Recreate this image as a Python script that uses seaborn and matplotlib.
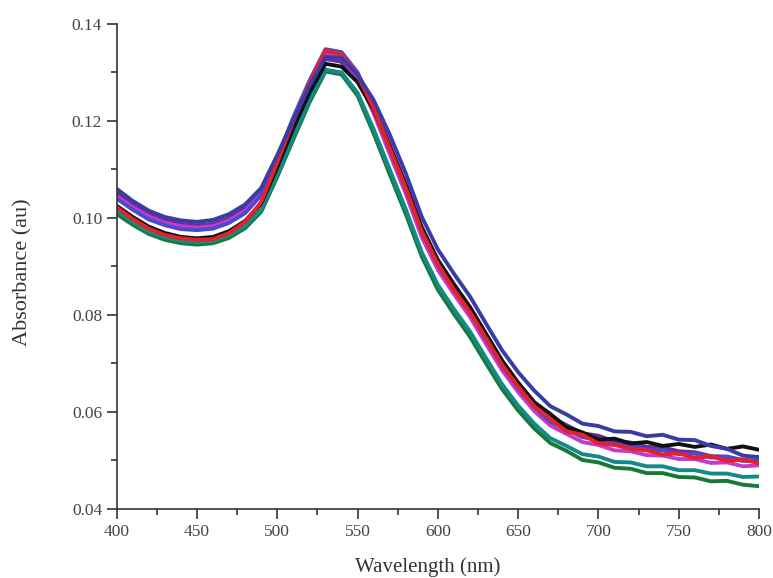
import numpy as np
import pandas as pd
import matplotlib
matplotlib.use("Agg")
import matplotlib.pyplot as plt
import seaborn as sns
from matplotlib.ticker import MultipleLocator

wavelength = list(range(400, 801, 10))

black = [0.1025, 0.1002, 0.0982, 0.0969, 0.0961, 0.0958, 0.0961, 0.0973, 0.0994, 0.1030,
         0.1105, 0.1185, 0.1258, 0.1318, 0.1312, 0.1280, 0.1223, 0.1147, 0.1068, 0.0980,
         0.0913, 0.0863, 0.0816, 0.0761, 0.0706, 0.0660, 0.0620, 0.0596, 0.0569, 0.0558,
         0.0543, 0.0545, 0.0535, 0.0538, 0.0530, 0.0534, 0.0528, 0.0533, 0.0524, 0.0529, 0.0522]
red = [0.1022, 0.0998, 0.0978, 0.0965, 0.0958, 0.0955, 0.0956, 0.0969, 0.0992, 0.1033,
       0.1115, 0.1200, 0.1278, 0.1345, 0.1337, 0.1295, 0.1226, 0.1144, 0.1062, 0.0972,
       0.0905, 0.0852, 0.0806, 0.0752, 0.0697, 0.0652, 0.0612, 0.0586, 0.0560, 0.0553,
       0.0535, 0.0532, 0.0524, 0.0521, 0.0512, 0.0515, 0.0505, 0.0509, 0.0499, 0.0502, 0.0494]
blue = [0.1060, 0.1035, 0.1015, 0.1002, 0.0995, 0.0992, 0.0996, 0.1008, 0.1028, 0.1062,
        0.1130, 0.1202, 0.1272, 0.1332, 0.1330, 0.1295, 0.1243, 0.1172, 0.1092, 0.1002,
        0.0935, 0.0885, 0.0838, 0.0782, 0.0727, 0.0682, 0.0644, 0.0612, 0.0595, 0.0576,
        0.0571, 0.0560, 0.0559, 0.0550, 0.0553, 0.0543, 0.0542, 0.0530, 0.0524, 0.0510, 0.0507]
purple = [0.1052, 0.1028, 0.1008, 0.0995, 0.0988, 0.0985, 0.0988, 0.1000, 0.1020, 0.1055,
          0.1125, 0.1198, 0.1268, 0.1328, 0.1322, 0.1282, 0.1230, 0.1152, 0.1070, 0.0980,
          0.0913, 0.0863, 0.0816, 0.0760, 0.0705, 0.0660, 0.0620, 0.0590, 0.0573, 0.0556,
          0.0551, 0.0539, 0.0537, 0.0528, 0.0527, 0.0519, 0.0517, 0.0509, 0.0508, 0.0501, 0.0500]
magenta = [0.1045, 0.1022, 0.1003, 0.0990, 0.0983, 0.0980, 0.0983, 0.0995, 0.1015, 0.1050,
           0.1123, 0.1200, 0.1275, 0.1338, 0.1332, 0.1288, 0.1216, 0.1132, 0.1050, 0.0960,
           0.0893, 0.0843, 0.0796, 0.0740, 0.0686, 0.0641, 0.0602, 0.0572, 0.0555, 0.0538,
           0.0532, 0.0521, 0.0519, 0.0511, 0.0510, 0.0503, 0.0503, 0.0495, 0.0496, 0.0488, 0.0490]
royal = [0.1040, 0.1017, 0.0997, 0.0985, 0.0977, 0.0975, 0.0978, 0.0990, 0.1010, 0.1047,
         0.1125, 0.1208, 0.1283, 0.1348, 0.1342, 0.1300, 0.1228, 0.1142, 0.1060, 0.0970,
         0.0903, 0.0853, 0.0806, 0.0750, 0.0695, 0.0650, 0.0611, 0.0580, 0.0565, 0.0548,
         0.0543, 0.0532, 0.0531, 0.0522, 0.0521, 0.0513, 0.0514, 0.0506, 0.0507, 0.0499, 0.0500]
teal = [0.1015, 0.0992, 0.0972, 0.0960, 0.0953, 0.0950, 0.0953, 0.0964, 0.0984, 0.1018,
        0.1090, 0.1168, 0.1243, 0.1306, 0.1300, 0.1258, 0.1183, 0.1100, 0.1018, 0.0929,
        0.0862, 0.0812, 0.0766, 0.0711, 0.0657, 0.0613, 0.0576, 0.0546, 0.0530, 0.0513,
        0.0508, 0.0497, 0.0496, 0.0488, 0.0488, 0.0480, 0.0480, 0.0473, 0.0473, 0.0466, 0.0467]
green = [0.1008, 0.0986, 0.0967, 0.0955, 0.0948, 0.0945, 0.0948, 0.0959, 0.0979, 0.1013,
         0.1085, 0.1162, 0.1238, 0.1302, 0.1296, 0.1252, 0.1174, 0.1090, 0.1008, 0.0920,
         0.0852, 0.0802, 0.0755, 0.0700, 0.0647, 0.0603, 0.0566, 0.0536, 0.0520, 0.0501,
         0.0496, 0.0485, 0.0483, 0.0474, 0.0474, 0.0466, 0.0465, 0.0457, 0.0458, 0.0450, 0.0447]

series_names = ["green", "teal", "purple", "magenta", "royal", "black", "red", "blue"]
series_values = [green, teal, purple, magenta, royal, black, red, blue]
series_colors = ["#167a36", "#138a8a", "#6a2d9e", "#c43cc4", "#4a4ad0", "#111111", "#e8202a", "#3a3ca6"]

x_ticks = [400, 450, 500, 550, 600, 650, 700, 750, 800]
y_ticks = [0.04, 0.06, 0.08, 0.10, 0.12, 0.14]

frames = []
for name, vals in zip(series_names, series_values):
    frames.append(pd.DataFrame({"wavelength": wavelength, "absorbance": vals, "series": name}))
df = pd.concat(frames, ignore_index=True)

sns.set_style("ticks")
plt.rcParams["font.family"] = ["Liberation Serif", "DejaVu Serif"]

fig = plt.figure(figsize=(7.73, 5.78), dpi=100)
ax = fig.add_axes([0.151, 0.1194, 0.831, 0.8391])

sns.lineplot(data=df, x="wavelength", y="absorbance", hue="series",
             hue_order=series_names, palette=series_colors, linewidth=2.8,
             legend=False, ax=ax, sort=False)

ax.set_xlim(400, 800)
ax.set_ylim(0.04, 0.14)
ax.set_xticks(x_ticks)
ax.set_yticks(y_ticks)
ax.set_xticklabels([str(t) for t in x_ticks])
ax.set_yticklabels([f"{t:.2f}" for t in y_ticks])
ax.xaxis.set_minor_locator(MultipleLocator(25))
ax.yaxis.set_minor_locator(MultipleLocator(0.01))

sns.despine(ax=ax)
for s in ["left", "bottom"]:
    ax.spines[s].set_color("#333333")
    ax.spines[s].set_linewidth(1.2)
ax.tick_params(axis="both", which="major", direction="out", length=7.5, width=1.2,
               colors="#333333", labelsize=12.5, labelcolor="#444444", pad=3)
ax.tick_params(axis="both", which="minor", direction="out", length=4.5, width=1.2,
               colors="#333333")

ax.set_xlabel("Wavelength (nm)", fontsize=15, color="#333333")
ax.set_ylabel("Absorbance (au)", fontsize=16, color="#333333")
ax.xaxis.set_label_coords(0.484, -0.099)
ax.yaxis.set_label_coords(-0.131, 0.489)

fig.savefig("out.png", dpi=100)
